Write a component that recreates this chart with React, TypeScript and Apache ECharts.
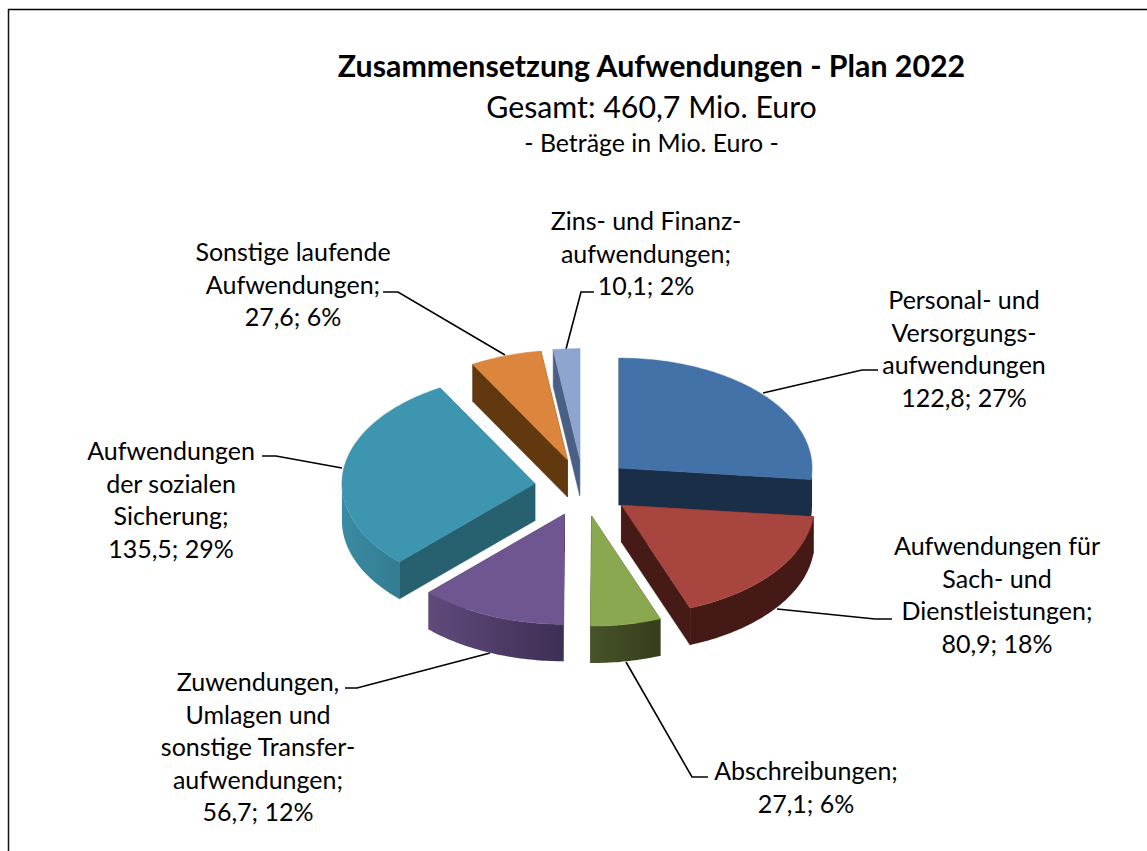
import React, { useEffect, useRef } from "react";
import * as echarts from "echarts";

const categories = [
  "Personal- und\nVersorgungs-\naufwendungen",
  "Aufwendungen für\nSach- und\nDienstleistungen;",
  "Abschreibungen;",
  "Zuwendungen,\nUmlagen und\nsonstige Transfer-\naufwendungen;",
  "Aufwendungen\nder sozialen\nSicherung;",
  "Sonstige laufende\nAufwendungen;",
  "Zins- und Finanz-\naufwendungen;",
];
const values = [122.8, 80.9, 27.1, 56.7, 135.5, 27.6, 10.1];
const valueLabels = ["122,8; 27%", "80,9; 18%", "27,1; 6%", "56,7; 12%", "135,5; 29%", "27,6; 6%", "10,1; 2%"];
const titleLines = ["Zusammensetzung Aufwendungen - Plan 2022", "Gesamt: 460,7 Mio. Euro", "- Beträge in Mio. Euro -"];

const topColors = ["#4272A8", "#A8453F", "#8AA84F", "#6F5691", "#3E95AF", "#DC853D", "#8EA6CF"];
const cutColors = ["#1B2E47", "#461A17", "#3A451F", "#3F3055", "#27606F", "#62390F", "#4A5F85"];
const outerFrom = ["#1B2E47", "#451A16", "#47542A", "#604A7B", "#3A8BA3", "#62390F", "#4A5F85"];
const outerTo = ["#1B2E47", "#451A16", "#343E1A", "#3D2F54", "#337C92", "#62390F", "#4A5F85"];

// Pie projection
const CX = 583;
const CY = 487.5;
const RX = 193;
const RY = 110;
const DEPTH = 37;
const EXPLODE_X = 48.5;
const EXPLODE_Y = 29;

// Label placement: centre x, first line centre y; leader polyline
const labelX = [964, 997, 806, 258, 171, 293, 646];
const labelY = [299, 545, 770, 681, 450, 251, 220];
const LINE_H = 32.6;
const leaders: number[][][] = [
  [[878, 370], [862, 370], [763, 393]],
  [[892, 619], [875, 619], [777, 609]],
  [[708, 777], [692, 777], [626, 662]],
  [[345, 688], [357, 688], [490, 653]],
  [[262, 456], [276, 456], [342, 468]],
  [[383, 292], [398, 292], [505, 355]],
  [[594, 292], [581, 292], [566, 349]],
];

const total = values.reduce((a, b) => a + b, 0);
const rad = (d: number) => (d * Math.PI) / 180;

function arc(cx: number, cy: number, from: number, to: number) {
  const pts: number[][] = [];
  const n = Math.max(2, Math.ceil(Math.abs(to - from)));
  for (let i = 0; i <= n; i++) {
    const t = rad(from + ((to - from) * i) / n);
    pts.push([cx + RX * Math.sin(t), cy - RY * Math.cos(t)]);
  }
  return pts;
}

function renderItem(params: any, api: any) {
  const idx = params.dataIndex;
  let before = 0;
  for (let i = 0; i < idx; i++) before += values[i];
  const a = (before / total) * 360;
  const b = ((before + api.value(0)) / total) * 360;
  const mid = rad((a + b) / 2);
  const cx = CX + EXPLODE_X * Math.sin(mid);
  const cy = CY - EXPLODE_Y * Math.cos(mid);
  const rim = arc(cx, cy, a, b);
  const down = (p: number[]) => [p[0], p[1] + DEPTH];
  const apex = [cx, cy];
  const children: any[] = [];
  const wall = (p: number[]) => ({
    type: "polygon",
    shape: { points: [apex, p, down(p), down(apex)] },
    style: { fill: cutColors[idx], stroke: cutColors[idx], lineWidth: 0.5 },
  });
  children.push(wall(rim[0]));
  children.push(wall(rim[rim.length - 1]));
  const oa = Math.max(a, 90);
  const ob = Math.min(b, 270);
  if (ob > oa) {
    const o = arc(cx, cy, oa, ob);
    const pts = o.concat(o.slice().reverse().map(down));
    children.push({
      type: "polygon",
      shape: { points: pts },
      style: {
        fill: {
          type: "linear", x: 0, y: 0, x2: 1, y2: 0,
          colorStops: [{ offset: 0, color: outerFrom[idx] }, { offset: 1, color: outerTo[idx] }],
        },
      },
    });
  }
  children.push({
    type: "polygon",
    shape: { points: [apex, ...rim] },
    style: { fill: topColors[idx], stroke: topColors[idx], lineWidth: 0.5 },
  });
  return { type: "group", children };
}

const FONT = "Lato";

export default function App() {
  const ref = useRef<HTMLDivElement>(null);
  useEffect(() => {
    const chart = echarts.init(ref.current!, undefined, { renderer: "svg" });
    const labelEls = categories.map((c, i) => ({
      type: "text",
      x: labelX[i],
      y: labelY[i] - LINE_H / 2,
      style: {
        text: c + "\n" + valueLabels[i],
        fontFamily: FONT,
        fontSize: 25,
        lineHeight: LINE_H,
        fill: "#000",
        align: "center",
        verticalAlign: "top",
      },
    }));
    const leaderEls = leaders.map((pts) => ({
      type: "polyline",
      shape: { points: pts },
      style: { stroke: "#000", lineWidth: 1.6, fill: "none" },
    }));
    chart.setOption({
      animation: false,
      backgroundColor: "#fff",
      title: [
        { text: titleLines[0], left: 646.5, top: 45, textAlign: "center", textStyle: { fontFamily: FONT, fontSize: 30.3, fontWeight: "bold", color: "#000" } },
        { text: titleLines[1], left: 646.5, top: 86, textAlign: "center", textStyle: { fontFamily: FONT, fontSize: 30.3, fontWeight: "normal", color: "#000" } },
        { text: titleLines[2], left: 646.5, top: 124, textAlign: "center", textStyle: { fontFamily: FONT, fontSize: 24.9, fontWeight: "normal", color: "#000" } },
      ],
      series: [
        {
          type: "custom",
          coordinateSystem: "none",
          renderItem,
          data: categories.map((name, i) => ({ name, value: [values[i]] })),
        },
      ],
      graphic: [
        { type: "line", shape: { x1: 8, y1: 9.5, x2: 1147, y2: 9.5 }, style: { stroke: "#000", lineWidth: 1.5 } },
        { type: "line", shape: { x1: 8.5, y1: 9, x2: 8.5, y2: 851 }, style: { stroke: "#111", lineWidth: 1.5 } },
        ...leaderEls,
        ...labelEls,
      ],
    });
    return () => chart.dispose();
  }, []);
  return <div ref={ref} style={{ position: "fixed", left: 0, top: 0, width: 1147, height: 851, background: "#fff" }} />;
}
